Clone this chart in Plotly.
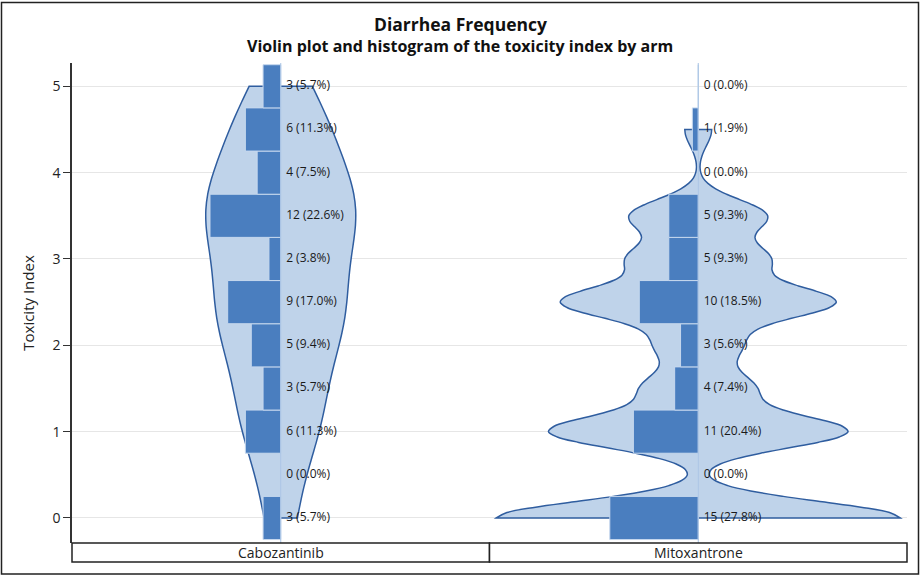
import numpy as np
import plotly.graph_objects as go

# data
arms = ["Cabozantinib", "Mitoxantrone"]
tox_index = [0, 0.5, 1, 1.5, 2, 2.5, 3, 3.5, 4, 4.5, 5]
cabo_counts = [3, 0, 6, 3, 5, 9, 2, 12, 4, 6, 3]
mito_counts = [15, 0, 11, 4, 3, 10, 5, 5, 0, 1, 0]
y_ticks = [0, 1, 2, 3, 4, 5]

FONT = "Open Sans"
VIOLIN_FILL = "#bfd3ea"
VIOLIN_LINE = "#2f5d9f"
BAR_FILL = "#4a7ebf"
BAR_LINE = "#c6d8ee"
XRANGE = [-35.4, 35.4]

fig = go.Figure()

# violins live on x / x2, bars and labels on x3 / x4 drawn on top of them
settings = [(cabo_counts, 0.55, 25.4), (mito_counts, 0.19, 68.5)]
for i, (counts, bw, vwidth) in enumerate(settings):
    vx = "x" if i == 0 else "x2"
    bx = "x3" if i == 0 else "x4"
    samples = np.repeat(tox_index, counts)
    total = sum(counts)

    fig.add_trace(go.Violin(
        x0=0, y=samples, orientation="v", side="both",
        width=vwidth, scalemode="width", bandwidth=bw, spanmode="hard",
        points=False, box_visible=False, meanline_visible=False,
        fillcolor=VIOLIN_FILL, line=dict(color=VIOLIN_LINE, width=1.5),
        hoverinfo="skip", showlegend=False, xaxis=vx, yaxis="y",
    ))

    fig.add_trace(go.Bar(
        y=tox_index, x=[-c for c in counts], orientation="h", width=0.5,
        marker=dict(color=BAR_FILL, line=dict(color=BAR_LINE, width=1)),
        showlegend=False, xaxis=bx, yaxis="y",
    ))

    labels = [f"{c} ({100 * c / total:.1f}%)" for c in counts]
    fig.add_trace(go.Scatter(
        x=[0] * len(tox_index), y=tox_index, mode="markers+text", text=labels,
        textposition="middle right",
        marker=dict(size=7, color="rgba(0,0,0,0)"),
        textfont=dict(family=FONT, size=12, color="#1a1a1a"),
        showlegend=False, hoverinfo="skip", xaxis=bx, yaxis="y",
    ))

    # centre line of each arm
    fig.add_shape(type="line", x0=0, x1=0, y0=0, y1=1,
                  xref=vx, yref="paper",
                  line=dict(color="#a9c3e4", width=1), layer="above")

hidden = dict(range=XRANGE, visible=False)
fig.update_layout(
    xaxis=dict(domain=[0, 0.5], anchor="y", **hidden),
    xaxis2=dict(domain=[0.5, 1], anchor="y", **hidden),
    xaxis3=dict(domain=[0, 0.5], anchor="y", overlaying="x", **hidden),
    xaxis4=dict(domain=[0.5, 1], anchor="y", overlaying="x2", **hidden),
    yaxis=dict(range=[-0.29, 5.27], tickvals=y_ticks, anchor="x",
               showgrid=True, gridcolor="#e6e6e6", gridwidth=1, zeroline=False,
               showline=True, linecolor="#333", linewidth=1.5,
               ticks="outside", ticklen=7, tickcolor="#333",
               tickfont=dict(family=FONT, size=14, color="#222"),
               title=dict(text="Toxicity Index", standoff=14,
                          font=dict(family=FONT, size=15, color="#222"))),
)

# footer boxes with arm names
foot = 19 / 480
for i, arm in enumerate(arms):
    fig.add_shape(type="rect", xref="paper", yref="paper",
                  x0=i * 0.5, x1=(i + 1) * 0.5, y0=-foot, y1=0,
                  line=dict(color="#222", width=1.5), fillcolor="white")
    fig.add_annotation(text=arm, xref="paper", yref="paper",
                       x=i * 0.5 + 0.25, y=-foot / 2,
                       xanchor="center", yanchor="middle", showarrow=False,
                       font=dict(family=FONT, size=14, color="#222"))

# outer frame
fig.add_shape(type="rect", xref="paper", yref="paper",
              x0=(1.5 - 72) / 835, x1=(918.5 - 72) / 835,
              y0=(543 - 574) / 480, y1=(543 - 2.5) / 480,
              line=dict(color="#222", width=1.5))

fig.add_annotation(text="<b>Diarrhea Frequency</b>", xref="paper", yref="paper",
                   x=(460 - 72) / 835, y=(543 - 24) / 480,
                   xanchor="center", yanchor="middle", showarrow=False,
                   font=dict(family=FONT, size=17.5, color="#111"))
fig.add_annotation(text="<b>Violin plot and histogram of the toxicity index by arm</b>",
                   xref="paper", yref="paper",
                   x=(460 - 72) / 835, y=(543 - 46) / 480,
                   xanchor="center", yanchor="middle", showarrow=False,
                   font=dict(family=FONT, size=16, color="#111"))

fig.update_layout(
    width=920, height=577,
    margin=dict(l=72, r=13, t=63, b=34),
    plot_bgcolor="white", paper_bgcolor="white",
    barmode="overlay", violinmode="overlay",
    font=dict(family=FONT),
)

fig.write_html("out.html", config={"displayModeBar": False},
               post_script="document.body.style.margin='0px';")
